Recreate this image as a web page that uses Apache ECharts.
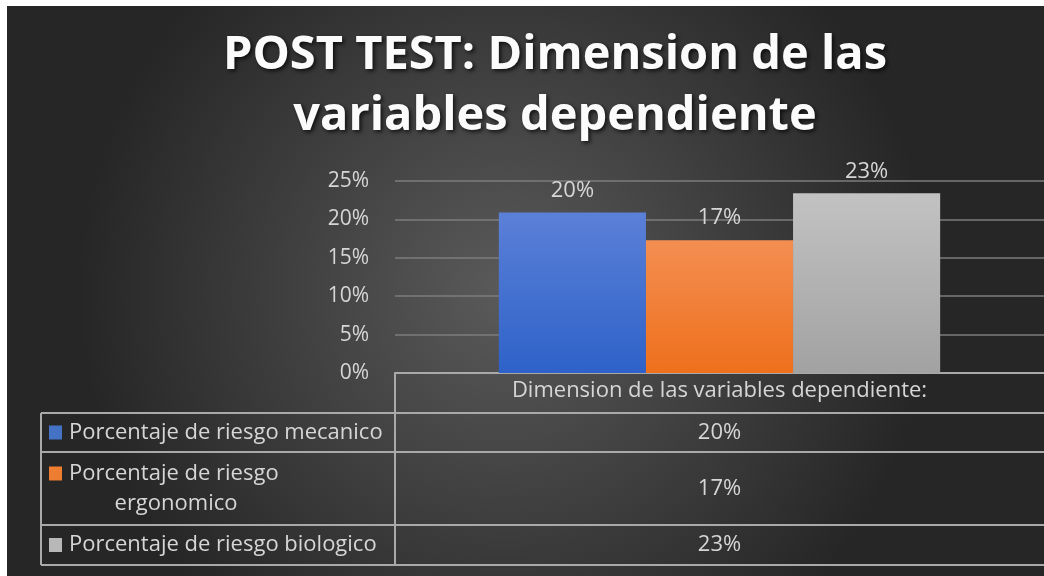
<!DOCTYPE html>
<html>
<head>
<meta charset="utf-8">
<script src="https://cdn.jsdelivr.net/npm/echarts@6/dist/echarts.min.js"></script>
<style>
  html, body { margin: 0; padding: 0; background: #fff; }
  #post-test-chart {
    position: absolute;
    left: 7px;
    top: 6px;
    width: 1037px;
    height: 570px;
  }
</style>
</head>
<body>
<div id="post-test-chart"></div>
<script>
// datos
const categorias = ['Dimension de las variables dependiente:']
const series = ['Porcentaje de riesgo mecanico', 'Porcentaje de riesgo ergonomico', 'Porcentaje de riesgo biologico']
const valores = [20.9, 17.3, 23.4]
const etiquetas = ['20%', '17%', '23%']
const ticksY = [0, 5, 10, 15, 20, 25]

const colores = [
  ['#5b80d8', '#2e62c8'],
  ['#f38e52', '#ee701c'],
  ['#c2c2c2', '#a2a2a2']
]
const coloresLeyenda = ['#4472c4', '#ed7d31', '#b8b8b8']

const gridLeft = 388
const textColor = '#d6d6d6'
const lineColor = '#a9a9a9'
const font = 'Open Sans'

const chart = echarts.init(document.getElementById('post-test-chart'))

const options = {
  backgroundColor: {
    type: 'radial', x: 0.48, y: 0.5, r: 0.75,
    colorStops: [
      { offset: 0, color: '#5a5a5a' },
      { offset: 1, color: '#262626' }
    ]
  },
  title: {
    text: 'POST TEST: Dimension de las\nvariables dependiente',
    left: 543,
    top: 14,
    textAlign: 'center',
    textStyle: {
      color: '#fbfbfb',
      fontFamily: font,
      fontWeight: 'bold',
      fontSize: 47,
      lineHeight: 61,
      textShadowColor: 'rgba(0,0,0,0.75)',
      textShadowBlur: 4,
      textShadowOffsetX: 2,
      textShadowOffsetY: 2
    }
  },
  grid: { left: gridLeft, right: 0, top: 175, bottom: 203 },
  xAxis: {
    type: 'category',
    data: categorias,
    axisLine: { show: true, lineStyle: { color: lineColor, width: 2 } },
    axisTick: { show: false },
    axisLabel: { color: textColor, fontFamily: font, fontSize: 22, margin: 7 }
  },
  yAxis: {
    type: 'value',
    min: ticksY[0],
    max: ticksY[ticksY.length - 1],
    interval: 5,
    axisLine: { show: false },
    axisTick: { show: false },
    axisLabel: {
      color: textColor, fontFamily: font, fontSize: 21, margin: 26,
      formatter: v => v + '%'
    },
    splitLine: { lineStyle: { color: '#7c7c7c', width: 1.5 } }
  },
  series: series.map((name, i) => ({
    name: name,
    type: 'bar',
    barGap: 0,
    barCategoryGap: '32%',
    data: [valores[i]],
    itemStyle: {
      color: {
        type: 'linear', x: 0, y: 0, x2: 0, y2: 1,
        colorStops: [{ offset: 0, color: colores[i][0] }, { offset: 1, color: colores[i][1] }]
      }
    },
    label: {
      show: true,
      position: 'top',
      distance: 11,
      color: textColor,
      fontFamily: font,
      fontSize: 22,
      formatter: () => etiquetas[i]
    }
  }))
}
chart.setOption(options)

// tabla de datos debajo del eje
const yCero = chart.convertToPixel({ yAxisIndex: 0 }, 0)
const xCentro = chart.convertToPixel({ xAxisIndex: 0 }, categorias[0])
const tablaIzq = 34
const tablaDer = 1037
const filas = [407, 446, 519, 559]
const g = []
const linea = (x1, y1, x2, y2) => ({
  type: 'line', shape: { x1, y1, x2, y2 }, silent: true,
  style: { stroke: lineColor, lineWidth: 2 }
})
filas.forEach(y => g.push(linea(tablaIzq, y, tablaDer, y)))
g.push(linea(gridLeft, yCero, gridLeft, filas[3]))
g.push(linea(tablaIzq, filas[0], tablaIzq, filas[3]))

const txt = (x, y, text, align) => ({
  type: 'text', x, y, silent: true,
  style: {
    text, fill: textColor, font: '22px "' + font + '"',
    textAlign: align, textVerticalAlign: 'middle'
  }
})
const lineasNombre = [
  [series[0]],
  ['Porcentaje de riesgo', 'ergonomico'],
  [series[2]]
]
lineasNombre.forEach((ls, i) => {
  const yMid = (filas[i] + filas[i + 1]) / 2
  const y1 = ls.length > 1 ? yMid - 15 : yMid
  g.push({
    type: 'rect', silent: true,
    shape: { x: 42, y: y1 - 7, width: 13, height: 14 },
    style: { fill: coloresLeyenda[i] }
  })
  g.push(txt(62, y1, ls[0], 'left'))
  if (ls.length > 1) g.push(txt(169, yMid + 15, ls[1], 'center'))
  g.push(txt(xCentro, yMid, etiquetas[i], 'center'))
})
chart.setOption({ graphic: g })
</script>
</body>
</html>
